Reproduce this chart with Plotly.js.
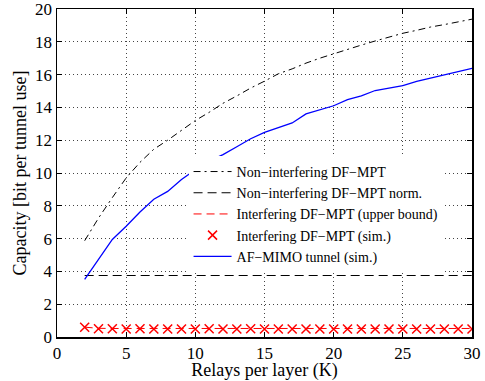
<!DOCTYPE html>
<html>
<head>
<meta charset="utf-8">
<script src="https://cdn.plot.ly/plotly-3.0.1.min.js"></script>
<style>html,body{margin:0;padding:0;background:#fff;}#chart{width:485px;height:381px;}</style>
</head>
<body>
<div id="chart"></div>
<script>
const relays = [2,3,4,5,6,7,8,9,10,11,12,13,14,15,16,17,18,19,20,21,22,23,24,25,26,27,28,29,30];
const nonInterfDF = [5.87,7.25,8.5,9.7,10.65,11.45,12.0,12.6,13.2,13.7,14.25,14.7,15.18,15.6,16.05,16.35,16.7,17.0,17.28,17.55,17.8,18.05,18.3,18.52,18.7,18.9,19.05,19.22,19.38];
const nonInterfNorm = [3.75,3.75,3.75,3.75,3.75,3.75,3.75,3.75,3.75,3.75,3.75,3.75,3.75,3.75,3.75,3.75,3.75,3.75,3.75,3.75,3.75,3.75,3.75,3.75,3.75,3.75,3.75,3.75,3.75];
const interfUpper = [0.6,0.53,0.52,0.52,0.52,0.52,0.52,0.52,0.52,0.52,0.52,0.52,0.52,0.52,0.52,0.52,0.52,0.52,0.52,0.52,0.52,0.52,0.52,0.52,0.52,0.52,0.52,0.52,0.52];
const interfSim = [0.6,0.5,0.5,0.49,0.5,0.49,0.49,0.49,0.49,0.5,0.49,0.49,0.5,0.49,0.49,0.49,0.49,0.49,0.49,0.49,0.49,0.49,0.49,0.49,0.49,0.49,0.49,0.49,0.49];
const afMimo = [3.52,4.75,5.95,6.75,7.62,8.4,8.88,9.6,10.2,10.72,11.12,11.6,12.09,12.48,12.76,13.05,13.6,13.84,14.1,14.47,14.71,15.03,15.2,15.33,15.58,15.78,16.0,16.22,16.38];
const names = ["Non\u2212interfering DF\u2212MPT","Non\u2212interfering DF\u2212MPT norm.","Interfering DF\u2212MPT (upper bound)","Interfering DF\u2212MPT (sim.)","AF\u2212MIMO tunnel (sim.)"];

const FONT = "Liberation Serif";
const traces = [
  {x: relays, y: nonInterfDF, name: names[0], mode: "lines", line: {color: "#000", width: 1, dash: "7px,4px,2px,4px"}},
  {x: relays, y: nonInterfNorm, name: names[1], mode: "lines", line: {color: "#000", width: 1.2, dash: "9px,5px"}},
  {x: relays, y: interfUpper, name: names[2], mode: "lines", line: {color: "#ff0000", width: 1, dash: "8px,5px"}},
  {x: relays, y: interfSim, name: names[3], mode: "markers", marker: {symbol: "x-thin-open", size: 9, color: "#ff0000", line: {color: "#ff0000", width: 1.5}}},
  {x: relays, y: afMimo, name: names[4], mode: "lines", line: {color: "#0000ff", width: 1.3}}
];
const axisCommon = {
  showline: true, mirror: "ticks", linecolor: "#000", linewidth: 1.5,
  ticks: "inside", ticklen: 5, tickcolor: "#000", tickwidth: 1,
  showgrid: true, gridcolor: "#444", griddash: "1px,3px", gridwidth: 1,
  zeroline: false, ticklabeloverflow: "allow",
  tickfont: {family: FONT, size: 17, color: "#000"}
};
const layout = {
  width: 485, height: 381,
  margin: {l: 57, r: 13, t: 9, b: 44},
  paper_bgcolor: "#fff", plot_bgcolor: "#fff",
  font: {family: FONT, color: "#000"},
  showlegend: true,
  legend: {x: 0.317, y: 0.552, xanchor: "left", yanchor: "top", bgcolor: "#fff", borderwidth: 0,
           font: {family: FONT, size: 14, color: "#000"}, itemwidth: 38, tracegroupgap: 0},
  xaxis: Object.assign({}, axisCommon, {range: [0, 30], dtick: 5, tick0: 0,
    title: {text: "Relays per layer (K)", font: {family: FONT, size: 18, color: "#000"}, standoff: 3}}),
  yaxis: Object.assign({}, axisCommon, {range: [0, 20], dtick: 2, tick0: 0,
    title: {text: "Capacity [bit per tunnel use]", font: {family: FONT, size: 18, color: "#000"}, standoff: 4}})
};
Plotly.newPlot("chart", traces, layout, {displayModeBar: false, staticPlot: true});
</script>
</body>
</html>
